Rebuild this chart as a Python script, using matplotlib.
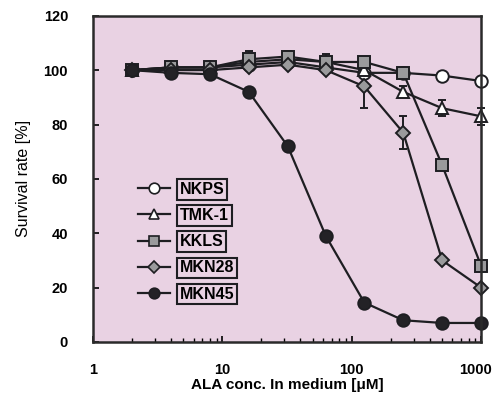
import numpy as np
import matplotlib
matplotlib.use("Agg")
import matplotlib.pyplot as plt
import matplotlib.transforms as mtransforms
from matplotlib.lines import Line2D
from matplotlib.ticker import LogLocator, NullFormatter

plt.rcParams['font.family'] = ['Liberation Sans', 'DejaVu Sans']
plt.rcParams['font.weight'] = 'bold'

# ALA concentration (uM)
conc = [2, 4, 8, 16, 32, 63, 125, 250, 500, 1000]

nkps = [100, 101, 101, 102, 103, 101, 99, 99, 98, 96]
tmk1 = [100, 101, 101, 103, 104, 103, 100, 92, 86, 83]
kkls = [100, 101, 101, 104, 105, 103, 103, 99, 65, 28]
mkn28 = [100, 100, 100, 101, 102, 100, 94, 77, 30, 20]
mkn45 = [100, 99, 98.5, 92, 72, 39, 14.5, 8, 7, 7]

# error bar sizes (one SD, read approximately)
nkps_err = [0, 1, 1, 1, 1, 1, 1, 1, 1, 1]
tmk1_err = [0, 1, 1, 2, 2, 2, 1, 2, 3, 3]
kkls_err = [0, 1, 1, 3, 2, 3, 1, 1, 1, 1]
mkn28_err = [0, 1, 1, 1, 1, 1, 8, 6, 1, 1]
mkn45_err = [0, 1, 1, 1, 1, 1, 1, 1, 1, 1]

names = ['NKPS', 'TMK-1', 'KKLS', 'MKN28', 'MKN45']
series = [nkps, tmk1, kkls, mkn28, mkn45]
errors = [nkps_err, tmk1_err, kkls_err, mkn28_err, mkn45_err]
markers = ['o', '^', 's', 'D', 'o']
faces = ['white', 'white', '#9a9a9c', '#9a9a9c', '#232226']
msizes = [9, 9, 9, 7.5, 9]
ink = '#1e1e22'

fig = plt.figure(figsize=(4.95, 3.94), dpi=100)
ax = fig.add_axes([0.188, 0.132, 0.784, 0.828])
ax.set_facecolor('#e9d2e3')

handles = []
for name, y, e, m, fc, ms in zip(names, series, errors, markers, faces, msizes):
    ax.errorbar(conc, y, yerr=e, color=ink, lw=1.6, marker=m,
                markerfacecolor=fc, markeredgecolor=ink, markeredgewidth=1.4,
                markersize=ms, capsize=3, elinewidth=1.4, clip_on=False)
    handles.append(Line2D([], [], color=ink, lw=1.6, marker=m, markerfacecolor=fc,
                          markeredgecolor=ink, markeredgewidth=1.2,
                          markersize=ms * 0.85, label=name))

ax.set_xscale('log')
ax.set_xlim(1, 1000)
ax.set_ylim(0, 120)
ax.set_xticks([1, 10, 100, 1000])
ax.set_xticklabels(['1', '10', '100', '1000'])
ax.xaxis.set_minor_locator(LogLocator(base=10, subs=np.arange(2, 10)))
ax.xaxis.set_minor_formatter(NullFormatter())
ax.set_yticks(np.arange(0, 121, 20))

ax.tick_params(axis='both', which='major', direction='in', length=4, width=1.2,
               labelsize=10.5)
ax.tick_params(axis='y', which='major', pad=18)
ax.tick_params(axis='x', which='major', pad=15)
ax.tick_params(axis='x', which='minor', direction='in', length=3, width=1)
for t in ax.get_xticklabels() + ax.get_yticklabels():
    t.set_fontweight('bold')

# last x label sits a little left of its tick, as in the original
shift = mtransforms.ScaledTranslation(-6 / 100, 0, fig.dpi_scale_trans)
last = ax.get_xticklabels()[-1]
last.set_transform(last.get_transform() + shift)

for s in ax.spines.values():
    s.set_linewidth(1.8)
    s.set_color('#2a2a2a')

ax.set_xlabel('ALA conc. In medium [\u03bcM]', fontsize=11, fontweight='bold', labelpad=1)
ax.set_ylabel('Survival rate [%]', fontsize=11.5, fontweight='normal', labelpad=9)

leg = ax.legend(handles=handles, loc='upper left', bbox_to_anchor=(0.08, 0.535),
                frameon=False, fontsize=11.5, handlelength=2.0, handletextpad=0.6,
                labelspacing=0.7)
for t in leg.get_texts():
    t.set_fontweight('bold')
    t.set_bbox(dict(facecolor='none', edgecolor=ink, linewidth=1.5, pad=2))

fig.savefig('out.png', dpi=100, facecolor='white')
